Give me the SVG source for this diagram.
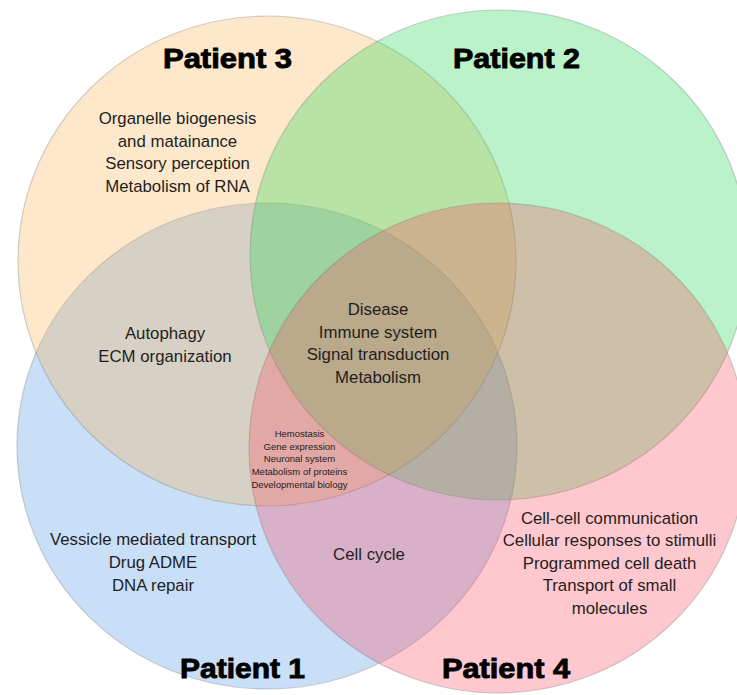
<svg xmlns="http://www.w3.org/2000/svg" width="737" height="695" viewBox="0 0 737 695">
  <style>
    .set { fill-opacity: 0.3; stroke: #7a7a7a; stroke-opacity: 0.35; stroke-width: 1.2; }
    .title { font-family: "Liberation Sans", Arial, sans-serif; font-weight: bold; font-size: 28px; fill: #000; stroke: #000; stroke-width: 0.9; text-anchor: middle; }
    .lbl { font-family: "Liberation Sans", Arial, sans-serif; font-size: 16.8px; fill: #1e1e1e; text-anchor: middle; }
    .small { font-family: "Liberation Sans", Arial, sans-serif; font-size: 9.5px; fill: #1e1e1e; text-anchor: middle; }
  </style>
  <rect width="737" height="695" fill="#ffffff"/>

  <!-- the four patient sets, drawn bottom to top -->
  <g id="patient1">
    <ellipse class="set" cx="267" cy="446" rx="250" ry="243" fill="#4b94e4"/>
    <text class="title" x="242.5" y="678" textLength="125" lengthAdjust="spacingAndGlyphs">Patient 1</text>
  </g>
  <g id="patient3">
    <ellipse class="set" cx="267" cy="261" rx="249" ry="245" fill="#f8b252"/>
    <text class="title" x="227.5" y="68" textLength="129" lengthAdjust="spacingAndGlyphs">Patient 3</text>
  </g>
  <g id="patient2">
    <ellipse class="set" cx="499" cy="255" rx="249" ry="245" fill="#19d74b"/>
    <text class="title" x="516.5" y="68" textLength="127" lengthAdjust="spacingAndGlyphs">Patient 2</text>
  </g>
  <g id="patient4">
    <ellipse class="set" cx="498" cy="448" rx="249" ry="245" fill="#fc485c"/>
    <text class="title" x="506" y="678" textLength="128" lengthAdjust="spacingAndGlyphs">Patient 4</text>
  </g>

  <!-- pathway labels per region -->
  <g id="only-patient3">
    <text class="lbl" x="177.5" y="124">Organelle biogenesis</text>
    <text class="lbl" x="177.5" y="146.5">and matainance</text>
    <text class="lbl" x="177.5" y="169">Sensory perception</text>
    <text class="lbl" x="177.5" y="191.5">Metabolism of RNA</text>
  </g>
  <g id="patient1-patient3">
    <text class="lbl" x="165" y="339">Autophagy</text>
    <text class="lbl" x="165" y="362">ECM organization</text>
  </g>
  <g id="all-patients">
    <text class="lbl" x="378" y="315">Disease</text>
    <text class="lbl" x="378" y="337.5">Immune system</text>
    <text class="lbl" x="378" y="360">Signal transduction</text>
    <text class="lbl" x="378" y="382.5">Metabolism</text>
  </g>
  <g id="patient1-patient3-patient4">
    <text class="small" x="299.5" y="437">Hemostasis</text>
    <text class="small" x="299.5" y="449.7">Gene expression</text>
    <text class="small" x="299.5" y="462.4">Neuronal system</text>
    <text class="small" x="299.5" y="475.1">Metabolism of proteins</text>
    <text class="small" x="299.5" y="487.8">Developmental biology</text>
  </g>
  <g id="only-patient1">
    <text class="lbl" x="153" y="544.5">Vessicle mediated transport</text>
    <text class="lbl" x="153" y="567.5">Drug ADME</text>
    <text class="lbl" x="153" y="590.5">DNA repair</text>
  </g>
  <g id="patient1-patient4">
    <text class="lbl" x="369" y="559.5">Cell cycle</text>
  </g>
  <g id="only-patient4">
    <text class="lbl" x="609.5" y="523.5">Cell-cell communication</text>
    <text class="lbl" x="609.5" y="546">Cellular responses to stimulli</text>
    <text class="lbl" x="609.5" y="568.5">Programmed cell death</text>
    <text class="lbl" x="609.5" y="591">Transport of small</text>
    <text class="lbl" x="609.5" y="613.5">molecules</text>
  </g>
</svg>
